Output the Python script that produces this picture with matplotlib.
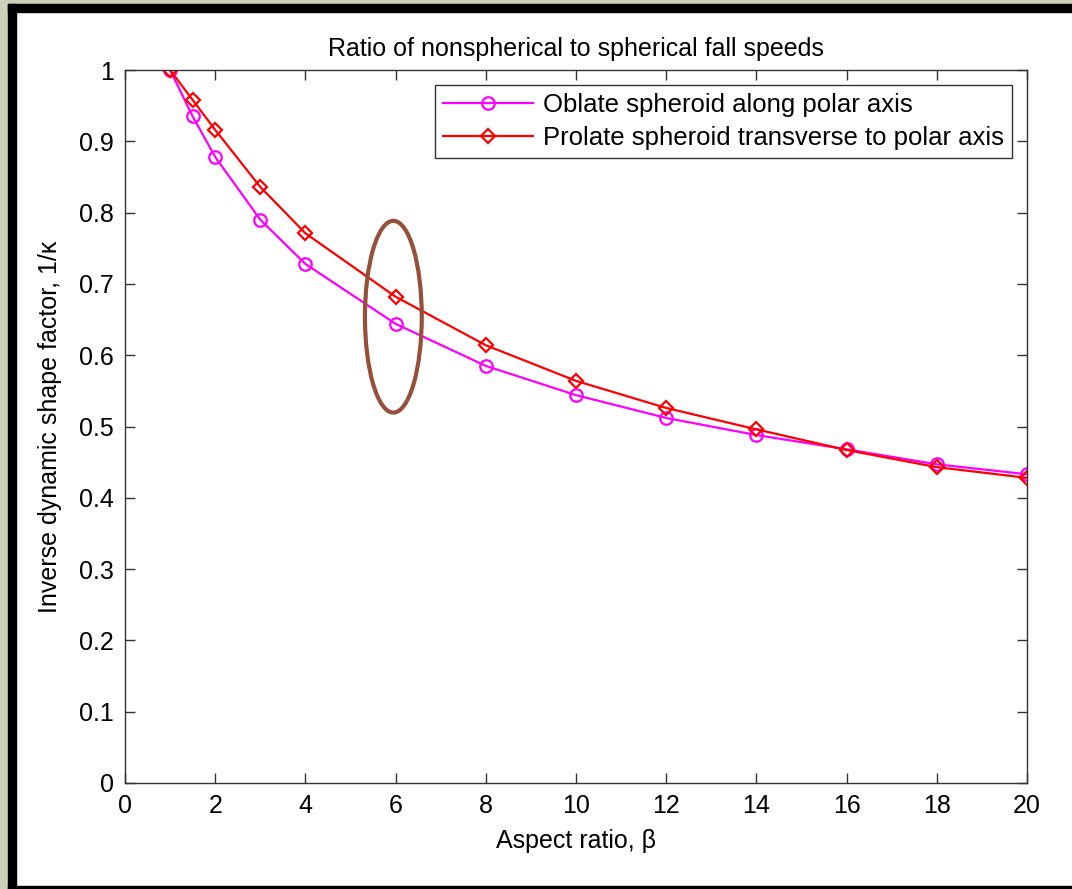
import matplotlib
matplotlib.use("Agg")
import matplotlib.pyplot as plt
from matplotlib.patches import Ellipse, Rectangle

plt.rcParams['font.family'] = ['Liberation Sans', 'DejaVu Sans']

# aspect ratio values
beta = [1, 1.5, 2, 3, 4, 6, 8, 10, 12, 14, 16, 18, 20]
# inverse dynamic shape factor
oblate = [1.0, 0.935, 0.878, 0.790, 0.728, 0.644, 0.585, 0.544, 0.512, 0.488, 0.468, 0.447, 0.433]
prolate = [1.0, 0.958, 0.916, 0.836, 0.771, 0.682, 0.614, 0.564, 0.526, 0.496, 0.467, 0.443, 0.428]
labels = ["Oblate spheroid along polar axis", "Prolate spheroid transverse to polar axis"]

fig = plt.figure(figsize=(10.72, 8.89), dpi=100)
fig.patch.set_facecolor('white')

# frame around the figure (screenshot look)
W, H = 1072, 889
fig.add_artist(Rectangle((0, 0), 8 / W, 1, transform=fig.transFigure, color='#CDD1BB', zorder=-5))
fig.add_artist(Rectangle((0, 1 - 4 / H), 1, 4 / H, transform=fig.transFigure, color='#CDD1BB', zorder=-5))
fig.add_artist(Rectangle((8 / W, 0), 8 / W, 1 - 4 / H, transform=fig.transFigure, color='black', zorder=-4))
fig.add_artist(Rectangle((8 / W, 1 - 12 / H), 1, 8 / H, transform=fig.transFigure, color='black', zorder=-4))
fig.add_artist(Rectangle((8 / W, 0), 1, 3 / H, transform=fig.transFigure, color='black', zorder=-4))

ax = fig.add_axes([125 / W, 1 - 783 / H, (1027 - 125) / W, (783 - 70) / H])

ax.plot(beta, oblate, color='#FF00FF', linewidth=1.6, marker='o', markersize=9,
        markerfacecolor='none', markeredgewidth=1.6, label=labels[0])
ax.plot(beta, prolate, color='#FF0000', linewidth=1.6, marker='D', markersize=7,
        markerfacecolor='none', markeredgewidth=1.6, label=labels[1])

ax.add_patch(Ellipse((5.95, 0.654), 1.26, 0.269, fill=False, edgecolor='#96503A',
                     linewidth=3, zorder=5))

ax.set_xlim(0, 20)
ax.set_ylim(0, 1)
ax.set_xticks(range(0, 21, 2))
ax.set_yticks([i / 10 for i in range(11)])
ax.set_yticklabels(['0', '0.1', '0.2', '0.3', '0.4', '0.5', '0.6', '0.7', '0.8', '0.9', '1'])
ax.tick_params(direction='in', length=7, width=1, top=True, right=True,
               labelsize=18, color='#333333', pad=8)
for s in ax.spines.values():
    s.set_color('#333333')
    s.set_linewidth(1)

ax.set_title("Ratio of nonspherical to spherical fall speeds", fontsize=18, pad=10)
ax.set_xlabel("Aspect ratio, \u03b2", fontsize=18, labelpad=8)
ax.set_ylabel("Inverse dynamic shape factor, 1/\u03ba", fontsize=18, labelpad=12)

leg = ax.legend(loc='upper right', fontsize=18.5, frameon=True, fancybox=False,
                edgecolor='black', borderaxespad=0.6, handlelength=3.5,
                handletextpad=0.4, borderpad=0.3, labelspacing=0.35)
leg.get_frame().set_linewidth(1)

fig.savefig("out.png", dpi=100, facecolor=fig.get_facecolor())
